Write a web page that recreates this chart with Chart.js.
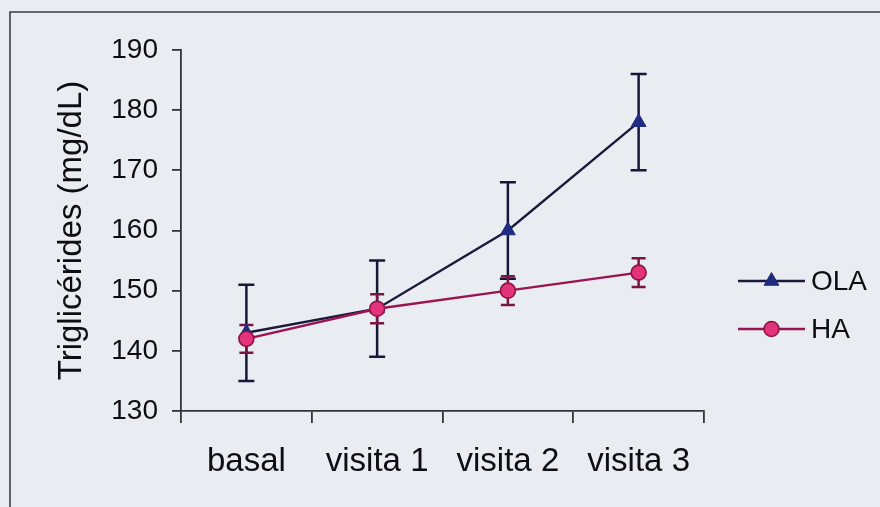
<!DOCTYPE html>
<html>
<head>
<meta charset="utf-8">
<script src="https://cdn.jsdelivr.net/npm/chart.js@4/dist/chart.umd.min.js"></script>
<style>
  html, body { margin: 0; padding: 0; background: #e9ecf0; }
  #wrap { width: 880px; height: 507px; position: relative; }
</style>
</head>
<body>
<div id="wrap"><canvas id="c" width="880" height="507"></canvas></div>
<script>
// Mean triglyceride values (mg/dL) and their standard deviations per visit
const categories = ['basal', 'visita 1', 'visita 2', 'visita 3'];
const olaMean = [143, 147, 160, 178];
const olaSD = [8, 8, 8, 8];
const haMean = [142, 147, 150, 153];
const haSD = [2.3, 2.4, 2.4, 2.4];
const yMin = 130, yMax = 190, yStep = 10;
const seriesNames = ['OLA', 'HA'];
const yTitle = 'Triglicérides (mg/dL)';

const FONT = '"Liberation Sans", Arial, Helvetica, sans-serif';
const INK = '#0e0e12';
const AXIS = '#333338';

const olaStyle = { line: '#1b1a3c', fill: '#1f2a80', err: '#17173a' };
const haStyle = { line: '#9a1452', fill: '#e3337a', border: '#8c1446', err: '#7a1444' };

// paper background and the surrounding frame
const paper = {
  id: 'paper',
  beforeDraw(chart) {
    const ctx = chart.ctx;
    ctx.save();
    ctx.fillStyle = '#e9ecf0';
    ctx.fillRect(0, 0, chart.width, chart.height);
    ctx.strokeStyle = '#3e3e44';
    ctx.lineWidth = 1.6;
    ctx.beginPath();
    ctx.moveTo(10, chart.height + 5);
    ctx.lineTo(10, 12);
    ctx.lineTo(chart.width + 5, 12);
    ctx.stroke();
    ctx.restore();
  }
};

// vertical error bars (mean ± SD) with caps
const errorBars = {
  id: 'errorBars',
  beforeDatasetsDraw(chart) {
    const ctx = chart.ctx;
    const y = chart.scales.y;
    chart.data.datasets.forEach((ds, i) => {
      const meta = chart.getDatasetMeta(i);
      ctx.save();
      ctx.strokeStyle = ds.errorColor;
      ctx.lineWidth = 2.5;
      ds.errors.forEach((e, j) => {
        const px = meta.data[j].x;
        const top = y.getPixelForValue(ds.data[j] + e);
        const bot = y.getPixelForValue(ds.data[j] - e);
        const cap = ds.capHalf;
        ctx.beginPath();
        ctx.moveTo(px, top); ctx.lineTo(px, bot);
        ctx.moveTo(px - cap, top); ctx.lineTo(px + cap, top);
        ctx.moveTo(px - cap, bot); ctx.lineTo(px + cap, bot);
        ctx.stroke();
      });
      ctx.restore();
    });
  }
};

function drawMarker(ctx, style, x, y, r, fill, stroke, bw) {
  ctx.save();
  ctx.fillStyle = fill;
  ctx.strokeStyle = stroke;
  ctx.lineWidth = bw;
  ctx.beginPath();
  if (style === 'triangle') {
    ctx.moveTo(x, y - r);
    ctx.lineTo(x + r * Math.sin(Math.PI / 3), y + r / 2);
    ctx.lineTo(x - r * Math.sin(Math.PI / 3), y + r / 2);
    ctx.closePath();
  } else {
    ctx.arc(x, y, r, 0, Math.PI * 2);
  }
  ctx.fill();
  ctx.stroke();
  ctx.restore();
}

// legend on the right: line with marker, then series name
const sideLegend = {
  id: 'sideLegend',
  afterDraw(chart) {
    const ctx = chart.ctx;
    const x0 = 738, x1 = 805, rows = [281, 329];
    [0, 1].forEach((idx, k) => {
      const ds = chart.data.datasets[idx];
      const yy = rows[k];
      ctx.save();
      ctx.strokeStyle = ds.borderColor;
      ctx.lineWidth = 2.6;
      ctx.beginPath();
      ctx.moveTo(x0, yy); ctx.lineTo(x1, yy);
      ctx.stroke();
      ctx.restore();
      drawMarker(ctx, ds.pointStyle, (x0 + x1) / 2, yy, ds.pointRadius,
        ds.pointBackgroundColor, ds.pointBorderColor, ds.pointBorderWidth);
      ctx.save();
      ctx.fillStyle = INK;
      ctx.font = '28px ' + FONT;
      ctx.textBaseline = 'middle';
      ctx.textAlign = 'left';
      ctx.fillText(ds.label, 811, yy + 1);
      ctx.restore();
    });
  }
};

new Chart(document.getElementById('c'), {
  type: 'line',
  data: {
    labels: categories,
    datasets: [
      {
        label: seriesNames[0],
        data: olaMean,
        errors: olaSD,
        errorColor: olaStyle.err,
        capHalf: 8,
        borderColor: olaStyle.line,
        borderWidth: 2.4,
        pointStyle: 'triangle',
        pointRadius: 8.5,
        pointBackgroundColor: olaStyle.fill,
        pointBorderColor: olaStyle.fill,
        pointBorderWidth: 1,
        tension: 0,
        order: 1
      },
      {
        label: seriesNames[1],
        data: haMean,
        errors: haSD,
        errorColor: haStyle.err,
        capHalf: 7,
        borderColor: haStyle.line,
        borderWidth: 2.4,
        pointStyle: 'circle',
        pointRadius: 7.5,
        pointBackgroundColor: haStyle.fill,
        pointBorderColor: haStyle.border,
        pointBorderWidth: 1.6,
        tension: 0,
        order: 0
      }
    ]
  },
  options: {
    responsive: false,
    animation: false,
    devicePixelRatio: 1,
    layout: { padding: { left: 0, right: 176, top: 50, bottom: 0 } },
    plugins: {
      legend: { display: false },
      tooltip: { enabled: false }
    },
    scales: {
      x: {
        type: 'category',
        offset: true,
        afterFit(scale) { scale.height = 96; },
        border: { display: true, color: AXIS, width: 1.8 },
        grid: { display: true, offset: true, drawOnChartArea: false, drawTicks: true, tickLength: 12, color: AXIS, lineWidth: 1.8 },
        ticks: { color: INK, font: { family: FONT, size: 33 }, padding: 19, maxRotation: 0, autoSkip: false }
      },
      y: {
        min: yMin,
        max: yMax,
        afterFit(scale) { scale.width = 181; },
        border: { display: true, color: AXIS, width: 1.8 },
        grid: { display: true, drawOnChartArea: false, drawTicks: true, tickLength: 9, color: AXIS, lineWidth: 1.8 },
        ticks: { stepSize: yStep, color: INK, font: { family: FONT, size: 28 }, padding: 14 },
        title: {
          display: true,
          text: yTitle,
          color: INK,
          font: { family: FONT, size: 33 },
          padding: { top: 52, bottom: 0 }
        }
      }
    }
  },
  plugins: [paper, errorBars, sideLegend]
});
</script>
</body>
</html>
